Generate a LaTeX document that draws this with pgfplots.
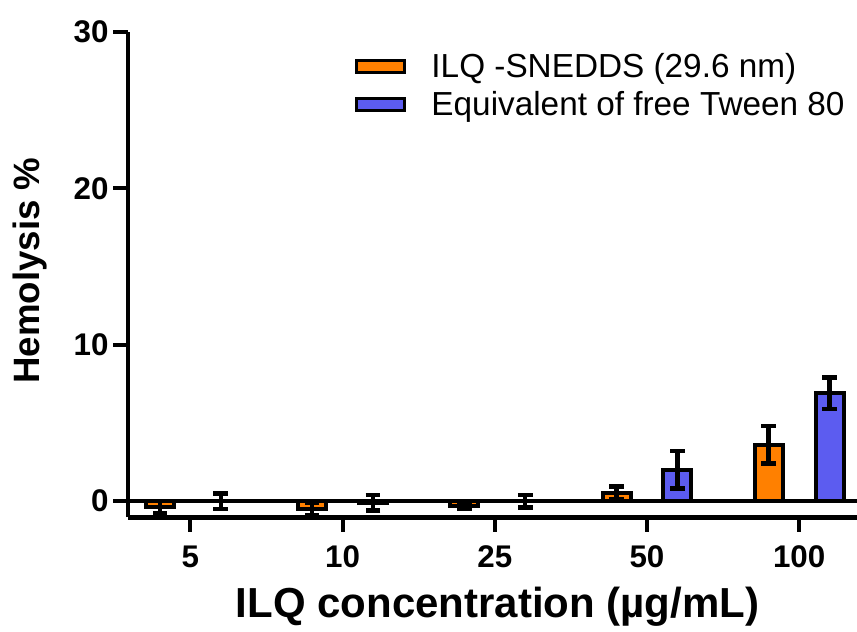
\documentclass[border=0pt]{standalone}
\usepackage{fontspec}
\setmainfont{Liberation Sans}
\usepackage{pgfplots}
\pgfplotsset{compat=1.18}
\definecolor{sneddsorange}{RGB}{255,128,0}
\definecolor{tweenblue}{RGB}{92,92,240}

\begin{document}
\begin{tikzpicture}
\begin{axis}[
  scale only axis,
  width=547pt, height=364pt,
  xmin=-0.41, xmax=4.38,
  ymin=-1.02, ymax=30,
  axis x line=bottom, axis y line=left,
  axis line style={line width=3.6pt, -},
  xtick={0,1,2,3,4},
  xticklabels={5,10,25,50,100},
  ytick={0,10,20,30},
  tick style={line width=3pt, black},
  xtick align=outside, ytick align=outside,
  major tick length=11pt,
  /pgf/number format/assume math mode=true,
  tick label style={font=\fontsize{23.5}{27}\selectfont\bfseries},
  xticklabel style={yshift=-7pt},
  ylabel={Hemolysis \%},
  xlabel={ILQ concentration (µg/mL)},
  ylabel style={at={(axis description cs:-0.134,0.508)}, anchor=center,
    font=\fontsize{27.5}{30}\selectfont\bfseries},
  xlabel style={at={(axis description cs:0.507,-0.185)}, anchor=center,
    font=\fontsize{31.5}{34}\selectfont\bfseries},
  ybar, bar shift=0pt, bar width=0.184,
  clip=false,
  legend style={at={(axis description cs:0.305,0.967)}, anchor=north west,
    draw=none, fill=none, font=\fontsize{25}{30}\selectfont,
    row sep=4.5pt},
  legend cell align=left,
  legend image code/.code={
    \draw[#1, line width=2.4pt, draw=black] (0pt,-4.5pt) rectangle (36pt,4.5pt);
    \path (53pt,0pt);},
  error bars/error bar style={line width=3.4pt, black},
  error bars/error mark options={line width=3.4pt, black, mark size=5.5pt, rotate=90},
]
\addplot[fill=sneddsorange, draw=black, line width=3pt,
  error bars/.cd, y dir=both, y explicit]
  coordinates {
  (-0.2,-0.4) +- (0,0.4)
  (0.8,-0.5) +- (0,0.4)
  (1.8,-0.3) +- (0,0.2)
  (2.8,0.55) +- (0,0.4)
  (3.8,3.6) +- (0,1.2)
  };
\addlegendentry{ILQ -SNEDDS (29.6 nm)}
\addplot[fill=tweenblue, draw=black, line width=3pt,
  error bars/.cd, y dir=both, y explicit]
  coordinates {
  (0.2,0.0) +- (0,0.5)
  (1.2,-0.1) +- (0,0.5)
  (2.2,0.0) +- (0,0.4)
  (3.2,2.0) +- (0,1.2)
  (4.2,6.9) +- (0,1.0)
  };
\addlegendentry{Equivalent of free Tween 80}
\addplot[sharp plot, black, line width=3pt, forget plot] coordinates {(-0.41,0) (4.38,0)};
\end{axis}
\pgfresetboundingbox
\path[use as bounding box] (-96pt,-85.5pt) rectangle (547pt,388pt);
\end{tikzpicture}
\end{document}
